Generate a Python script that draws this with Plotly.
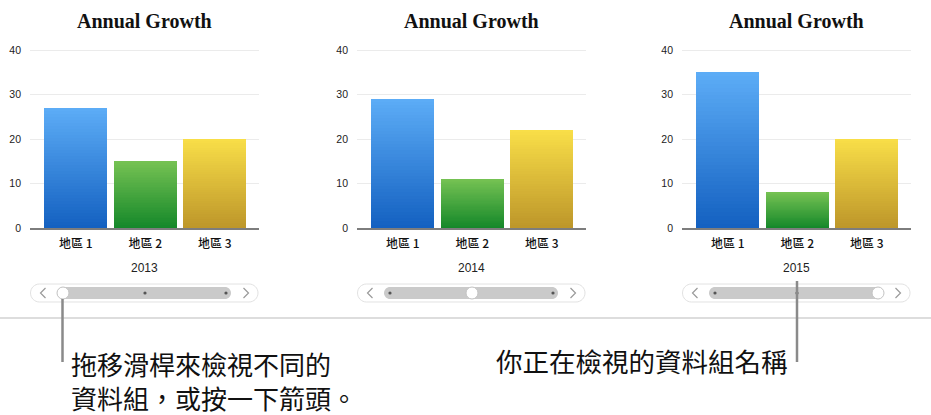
import plotly.graph_objects as go

W, H = 931, 415

# ---------------- data ----------------
years = ["2013", "2014", "2015"]
regions = ["地區 1", "地區 2", "地區 3"]
values_2013 = [27, 15, 20]
values_2014 = [29, 11, 22]
values_2015 = [35, 8, 20]
y_ticks = [0, 10, 20, 30, 40]
chart_title = "Annual Growth"
callout_left = ["拖移滑桿來檢視不同的", "資料組，或按一下箭頭。"]
callout_right = "你正在檢視的資料組名稱"

series = [values_2013, values_2014, values_2015]

# ---------------- style ----------------
grad_top = [(92, 172, 246), (116, 193, 82), (248, 222, 72)]
grad_bot = [(20, 97, 193), (21, 136, 42), (190, 151, 42)]
N_SEG = 40
panel_left = [30, 357, 682]
panel_w = 229
y0_px, y40_px = 228, 50          # pixel rows of values 0 and 40
y_max = 40.4
ppu = (y0_px - y40_px) / 40.0
plot_top = y0_px - y_max * ppu
plot_bot = y0_px
CJK = "Noto Sans CJK TC, Noto Sans CJK SC, sans-serif"
SANS = "Liberation Sans, Arial, " + CJK


def px(x):
    return x / W


def py(y):
    return 1 - y / H


def mix(c0, c1, t):
    return "rgb(%d,%d,%d)" % tuple(round(a + (b - a) * t) for a, b in zip(c0, c1))


fig = go.Figure()
layout = dict(
    width=W, height=H, margin=dict(l=0, r=0, t=0, b=0, pad=0, autoexpand=False),
    paper_bgcolor="white", plot_bgcolor="white",
    barmode="stack", bargap=0, showlegend=False,
)

annotations = []
shapes = []

for p, vals in enumerate(series):
    sfx = "" if p == 0 else str(p + 1)
    xa, ya = "x" + sfx, "y" + sfx
    # gradient bars: stacked slices of each value
    for k in range(N_SEG):
        t = k / (N_SEG - 1)
        fig.add_trace(go.Bar(
            x=[0, 1, 2], y=[v / N_SEG for v in vals],
            width=0.906,
            marker=dict(color=[mix(grad_bot[i], grad_top[i], t) for i in range(3)],
                        line=dict(width=0)),
            xaxis=xa, yaxis=ya, hoverinfo="skip",
        ))
    x0 = panel_left[p]
    layout["xaxis" + sfx] = dict(
        domain=[px(x0), px(x0 + panel_w)], anchor=ya,
        range=[-0.66, 2.635], tickmode="array", tickvals=[0, 1, 2], ticktext=regions,
        showgrid=False, zeroline=False, showline=True, linecolor="#7d7d7d", linewidth=1.5,
        ticks="", tickfont=dict(family=CJK, size=12, color="#111", weight=500),
        ticklabelstandoff=4, fixedrange=True, automargin=False,
    )
    layout["yaxis" + sfx] = dict(
        domain=[py(plot_bot), py(plot_top)], anchor=xa,
        range=[0, y_max], tickvals=y_ticks, showgrid=True, gridcolor="#ebebeb", gridwidth=1,
        zeroline=False, showline=False, ticks="",
        tickfont=dict(family=SANS, size=10.5, color="#222"), ticklabelstandoff=8,
        fixedrange=True, automargin=False,
    )
    cx = x0 + panel_w / 2
    annotations.append(dict(text=chart_title, x=px(cx), y=py(21), xref="paper", yref="paper",
                            showarrow=False, xanchor="center", yanchor="middle",
                            font=dict(family="Liberation Serif, DejaVu Serif, serif", size=20,
                                      color="#111", weight="bold")))
    annotations.append(dict(text=years[p], x=px(cx), y=py(268), xref="paper", yref="paper",
                            showarrow=False, xanchor="center", yanchor="middle",
                            font=dict(family=SANS, size=12, color="#222")))

    # slider
    base = x0 - 30
    ox0, ox1, oyc, oh = base + 30.5, base + 258, 293, 18
    ix0, ix1, ih = base + 57, base + 231, 12

    def pill(a, b, yc, h):
        r = h / 2
        k = 0.5523 * r
        pts = [
            ("M", [(a + r, yc - r)]),
            ("L", [(b - r, yc - r)]),
            ("C", [(b - r + k, yc - r), (b, yc - k), (b, yc)]),
            ("C", [(b, yc + k), (b - r + k, yc + r), (b - r, yc + r)]),
            ("L", [(a + r, yc + r)]),
            ("C", [(a + r - k, yc + r), (a, yc + k), (a, yc)]),
            ("C", [(a, yc - k), (a + r - k, yc - r), (a + r, yc - r)]),
        ]
        s = ""
        for cmd, ps in pts:
            s += cmd + " ".join("%.5f,%.5f" % (px(x), py(y)) for x, y in ps) + " "
        return s + "Z"

    shapes.append(dict(type="path", path=pill(ox0, ox1, oyc, oh), xref="paper", yref="paper",
                       fillcolor="white", line=dict(color="#e2e2e2", width=1)))
    shapes.append(dict(type="path", path=pill(ix0, ix1, oyc, ih), xref="paper", yref="paper",
                       fillcolor="#cacaca", line=dict(width=0)))
    # chevrons
    lx, rx = base + 43, base + 246
    shapes.append(dict(type="path", xref="paper", yref="paper",
                       path="M%.5f,%.5f L%.5f,%.5f L%.5f,%.5f" % (px(lx + 2.5), py(oyc - 5), px(lx - 2.5), py(oyc), px(lx + 2.5), py(oyc + 5)),
                       line=dict(color="#9a9a9a", width=1.2)))
    shapes.append(dict(type="path", xref="paper", yref="paper",
                       path="M%.5f,%.5f L%.5f,%.5f L%.5f,%.5f" % (px(rx - 2.5), py(oyc - 5), px(rx + 2.5), py(oyc), px(rx - 2.5), py(oyc + 5)),
                       line=dict(color="#9a9a9a", width=1.2)))
    stops = [base + 63, base + 145, base + 226]
    for j, sx in enumerate(stops):
        if j == p:
            r = 6
            shapes.append(dict(type="circle", xref="paper", yref="paper",
                               x0=px(sx - r), x1=px(sx + r), y0=py(oyc + r), y1=py(oyc - r),
                               fillcolor="white", line=dict(color="#c4c4c4", width=1)))
        else:
            r = 1.6
            shapes.append(dict(type="circle", xref="paper", yref="paper",
                               x0=px(sx - r), x1=px(sx + r), y0=py(oyc + r), y1=py(oyc - r),
                               fillcolor="#555", line=dict(width=0)))

# separator and callouts
shapes.append(dict(type="line", xref="paper", yref="paper", x0=0, x1=1, y0=py(318), y1=py(318),
                   line=dict(color="#d2d2d2", width=1.5)))
shapes.append(dict(type="line", xref="paper", yref="paper", x0=px(62.5), x1=px(62.5),
                   y0=py(299), y1=py(362), line=dict(color="#8a8a8a", width=2.5)))
shapes.append(dict(type="line", xref="paper", yref="paper", x0=px(797), x1=px(797),
                   y0=py(281), y1=py(362), line=dict(color="#8a8a8a", width=2.5)))

annotations.append(dict(text="<br>".join(callout_left), x=px(69), y=py(380), xref="paper", yref="paper",
                        showarrow=False, xanchor="left", yanchor="middle", align="left",
                        font=dict(family=CJK, size=26, color="#111")))
annotations.append(dict(text=callout_right, x=px(494), y=py(360), xref="paper", yref="paper",
                        showarrow=False, xanchor="left", yanchor="middle",
                        font=dict(family=CJK, size=26.5, color="#111")))

layout["annotations"] = annotations
layout["shapes"] = shapes
fig.update_layout(**layout)
fig.write_html("out.html", config={"displayModeBar": False})
